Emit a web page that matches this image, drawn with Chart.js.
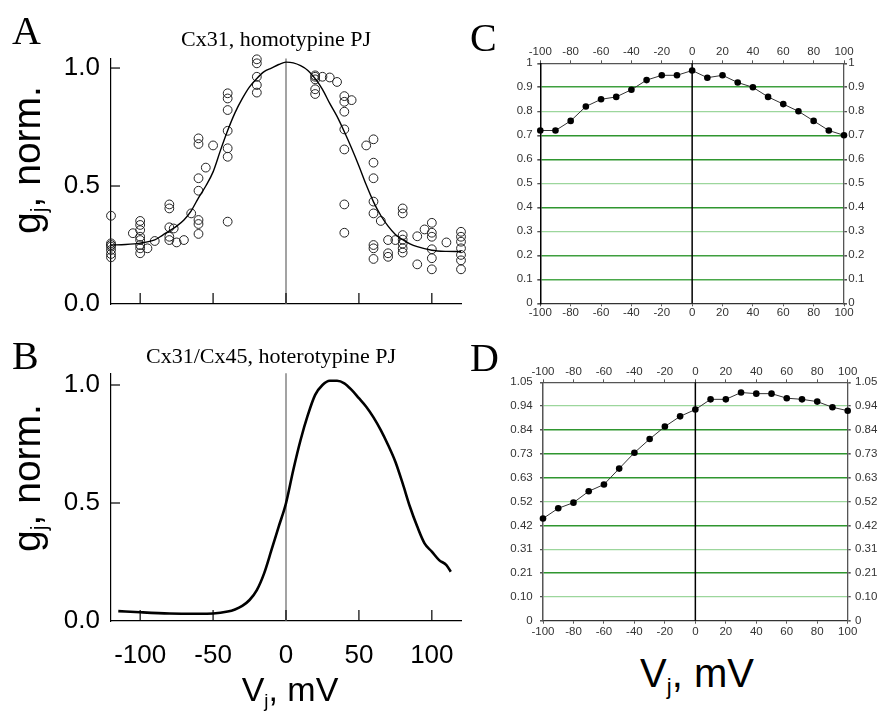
<!DOCTYPE html>
<html>
<head>
<meta charset="utf-8">
<script src="https://cdn.jsdelivr.net/npm/chart.js@4.4.0/dist/chart.umd.min.js"></script>
<style>
body { margin: 0; background: #fff; }
#fig { position: relative; width: 881px; height: 721px; overflow: hidden; background: #fff; }
#fig canvas { position: absolute; }
.t { position: absolute; line-height: 1; white-space: nowrap; color: #000; }
.serif { font-family: "Liberation Serif", "DejaVu Serif", serif; }
.sans { font-family: "Liberation Sans", Arial, sans-serif; }
.ylab { font-size: 39px; transform: translate(-50%, -50%) rotate(-90deg); }
sub { font-size: 55%; vertical-align: -0.3em; line-height: 0; }
</style>
</head>
<body>
<div id="fig">
  <canvas id="chartA" width="475" height="270" style="left:0;top:50px"></canvas>
  <canvas id="chartB" width="475" height="361" style="left:0;top:360px"></canvas>
  <canvas id="chartC" width="411" height="300" style="left:470px;top:30px"></canvas>
  <canvas id="chartD" width="411" height="300" style="left:470px;top:345px"></canvas>

  <div class="t serif" style="left:12px;top:11px;font-size:40px">A</div>
  <div class="t serif" style="left:276px;top:28px;font-size:22px;transform:translateX(-50%)">Cx31, homotypine PJ</div>
  <div class="t sans ylab" style="left:26px;top:160px">g<sub>j</sub>, norm.</div>

  <div class="t serif" style="left:12px;top:336px;font-size:40px">B</div>
  <div class="t serif" style="left:271px;top:345px;font-size:22px;transform:translateX(-50%)">Cx31/Cx45, hoterotypine PJ</div>
  <div class="t sans ylab" style="left:26px;top:478px">g<sub>j</sub>, norm.</div>
  <div class="t sans" style="left:290px;top:672px;font-size:34px;transform:translateX(-50%)">V<sub>j</sub>, mV</div>

  <div class="t serif" style="left:470px;top:18px;font-size:40px">C</div>
  <div class="t serif" style="left:470px;top:338px;font-size:40px">D</div>
  <div class="t sans" style="left:697px;top:653px;font-size:40px;transform:translateX(-50%)">V<sub>j</sub>, mV</div>
</div>

<script>
// ---- panel A: measured points and the fitted curve (Vj in mV, normalised gj)
var aPointV = [-120, -120, -120, -120, -120, -120, -120,
  -100, -100, -100, -100, -100, -100, -100, -100, -105, -95, -90,
  -80, -80, -80, -80, -80, -77, -75, -70,
  -60, -60, -60, -60, -60, -60, -60, -65, -55, -50,
  -40, -40, -40, -40, -40, -40, -40,
  -20, -20, -20, -20, -20,
  20, 20, 20, 20, 20, 25, 30, 35,
  40, 40, 40, 40, 40, 40, 40, 45,
  60, 60, 60, 60, 60, 60, 60, 60, 55, 65, 70, 70, 70,
  80, 80, 80, 80, 80, 80, 80, 75, 90, 90, 95,
  100, 100, 100, 100, 100, 100, 110,
  120, 120, 120, 120, 120, 120, 120];
var aPointG = [0.374, 0.257, 0.25, 0.243, 0.229, 0.212, 0.198,
  0.352, 0.335, 0.313, 0.285, 0.271, 0.25, 0.236, 0.215, 0.30, 0.236, 0.267,
  0.422, 0.405, 0.325, 0.285, 0.271, 0.32, 0.261, 0.271,
  0.702, 0.678, 0.533, 0.48, 0.356, 0.339, 0.297, 0.384, 0.578, 0.672,
  0.893, 0.871, 0.822, 0.734, 0.66, 0.624, 0.349,
  1.037, 1.02, 0.963, 0.928, 0.896,
  0.969, 0.963, 0.952, 0.91, 0.89, 0.963, 0.96, 0.941,
  0.881, 0.857, 0.815, 0.74, 0.655, 0.422, 0.302, 0.864,
  0.698, 0.599, 0.533, 0.434, 0.384, 0.25, 0.236, 0.191, 0.672, 0.352, 0.271, 0.215, 0.20,
  0.405, 0.384, 0.292, 0.273, 0.256, 0.236, 0.218, 0.271, 0.287, 0.168, 0.316,
  0.344, 0.302, 0.285, 0.232, 0.194, 0.147, 0.261,
  0.306, 0.285, 0.264, 0.236, 0.208, 0.185, 0.147];
var aFitV = [-120, -110, -100, -90, -85, -80, -75, -70, -65, -60, -55, -50, -45, -40, -35, -30, -25, -20, -15, -10, -5, 0,
  5, 10, 15, 20, 25, 30, 35, 40, 45, 50, 55, 60, 65, 70, 75, 80, 85, 90, 100, 110, 120];
var aFitG = [0.25, 0.252, 0.258, 0.272, 0.29, 0.31, 0.33, 0.356, 0.395, 0.45, 0.5, 0.56, 0.65, 0.735, 0.81, 0.87, 0.92, 0.956, 0.985, 1.0, 1.015, 1.025,
  1.022, 1.01, 0.99, 0.955, 0.91, 0.85, 0.795, 0.73, 0.66, 0.585, 0.505, 0.433, 0.375, 0.33, 0.295, 0.273, 0.255, 0.243, 0.228, 0.223, 0.222];

// ---- panel B: continuous ramp trace
var bV = [-115, -100, -80, -60, -50, -40, -35, -30, -25, -20, -15, -10, -5, 0, 5, 10, 15, 20, 25, 30, 35, 40, 45,
  50, 55, 60, 65, 70, 75, 80, 85, 90, 95, 100, 105, 110, 113];
var bG = [0.042, 0.037, 0.032, 0.031, 0.032, 0.04, 0.049, 0.064, 0.089, 0.131, 0.202, 0.30, 0.40, 0.499, 0.64, 0.767, 0.873, 0.958, 1.0, 1.018, 1.018, 1.007, 0.979,
  0.944, 0.908, 0.863, 0.809, 0.746, 0.675, 0.583, 0.484, 0.40, 0.329, 0.294, 0.258, 0.237, 0.209];

var abXTicks = [-100, -50, 0, 50, 100];
var abYTicks = [0, 0.5, 1.0];

// ---- panels C and D: model curves
var cdV = [-100, -90, -80, -70, -60, -50, -40, -30, -20, -10, 0, 10, 20, 30, 40, 50, 60, 70, 80, 90, 100];
var cG = [0.72, 0.72, 0.76, 0.82, 0.85, 0.86, 0.89, 0.93, 0.95, 0.95, 0.97, 0.94, 0.95, 0.92, 0.90, 0.86, 0.83, 0.80, 0.76, 0.72, 0.70];
var dG = [0.45, 0.495, 0.52, 0.57, 0.60, 0.67, 0.74, 0.80, 0.855, 0.90, 0.93, 0.975, 0.975, 1.005, 1.0, 1.0, 0.98, 0.975, 0.965, 0.94, 0.925];
var cdXTicks = [-100, -80, -60, -40, -20, 0, 20, 40, 60, 80, 100];
var cYTicks = [0, 0.1, 0.2, 0.3, 0.4, 0.5, 0.6, 0.7, 0.8, 0.9, 1];
var cYLabels = ['0', '0.1', '0.2', '0.3', '0.4', '0.5', '0.6', '0.7', '0.8', '0.9', '1'];
var dYTicks = [0, 0.105, 0.21, 0.315, 0.42, 0.525, 0.63, 0.735, 0.84, 0.945, 1.05];
var dYLabels = ['0', '0.10', '0.21', '0.31', '0.42', '0.52', '0.63', '0.73', '0.84', '0.94', '1.05'];

var DARK = '#2f962f', LIGHT = '#9cd69c';
var cGridColors = ['rgba(0,0,0,0)', '#4aa84a', '#3f9f3f', LIGHT, DARK, LIGHT, DARK, DARK, LIGHT, '#3fa03f', 'rgba(0,0,0,0)'];
var dGridColors = ['rgba(0,0,0,0)', LIGHT, DARK, LIGHT, DARK, LIGHT, DARK, DARK, DARK, LIGHT, 'rgba(0,0,0,0)'];

function xy(xs, ys) {
  return xs.map(function (x, i) { return { x: x, y: ys[i] }; });
}
function fixTicks(values) {
  return function (scale) { scale.ticks = values.map(function (v) { return { value: v }; }); };
}
// fixed axis box sizes, and no extra room for overhanging labels
function fixSize(w, h) {
  return function (scale) {
    if (w != null) scale.width = w;
    if (h != null) scale.height = h;
    scale.paddingTop = scale.paddingBottom = scale.paddingLeft = scale.paddingRight = 0;
  };
}

// ticks pointing into the plot, as in panels A and B
var innerTicks = {
  id: 'innerTicks',
  afterDraw: function (chart, args, opts) {
    if (!opts.x) return;
    var ctx = chart.ctx, a = chart.chartArea, sx = chart.scales.x, sy = chart.scales.y;
    ctx.save();
    ctx.strokeStyle = '#000';
    ctx.lineWidth = 1.2;
    sx.ticks.forEach(function (t) {
      var px = sx.getPixelForValue(t.value);
      ctx.beginPath(); ctx.moveTo(px, a.bottom); ctx.lineTo(px, a.bottom - opts.x); ctx.stroke();
    });
    sy.ticks.forEach(function (t) {
      var py = sy.getPixelForValue(t.value);
      if (t.value === 0) return;
      ctx.beginPath(); ctx.moveTo(a.left, py); ctx.lineTo(a.left + opts.y, py); ctx.stroke();
    });
    ctx.restore();
  }
};

// vertical line at Vj = 0
var zeroLine = {
  id: 'zeroLine',
  beforeDatasetsDraw: function (chart, args, opts) {
    if (!opts.color) return;
    var ctx = chart.ctx, a = chart.chartArea;
    var px = chart.scales.x.getPixelForValue(0);
    ctx.save();
    ctx.strokeStyle = opts.color;
    ctx.lineWidth = opts.width;
    ctx.beginPath(); ctx.moveTo(px, a.top); ctx.lineTo(px, a.bottom); ctx.stroke();
    ctx.restore();
  }
};

Chart.defaults.font.family = '"Liberation Sans", Arial, sans-serif';
Chart.defaults.color = '#000';

function gjChart(id, datasets, yMax, showX, padTop, xAxisH) {
  return new Chart(document.getElementById(id), {
    type: 'scatter',
    data: { datasets: datasets },
    options: {
      responsive: false,
      animation: false,
      events: [],
      layout: { autoPadding: false, padding: { top: padTop, right: 14, left: 0, bottom: 0 } },
      plugins: {
        legend: { display: false },
        tooltip: { enabled: false },
        innerTicks: { x: 11, y: 9 },
        zeroLine: { color: '#a3a3a3', width: 2 }
      },
      scales: {
        x: {
          type: 'linear', min: -120, max: 120,
          afterBuildTicks: fixTicks(abXTicks), afterFit: fixSize(null, xAxisH),
          grid: { display: false, drawTicks: false },
          border: { color: '#000', width: 1.2 },
          ticks: { display: showX, font: { size: 26 }, padding: 19, color: '#000', maxRotation: 0, autoSkip: false,
            callback: function (v) { return String(v); } }
        },
        y: {
          type: 'linear', min: 0, max: yMax,
          afterBuildTicks: fixTicks(abYTicks), afterFit: fixSize(111, null),
          grid: { display: false, drawTicks: false },
          border: { color: '#000', width: 1.2 },
          ticks: { font: { size: 26 }, padding: 11, color: '#000',
            callback: function (v) { return v.toFixed(1); } }
        }
      }
    },
    plugins: [innerTicks, zeroLine]
  });
}

gjChart('chartA', [
  { data: xy(aFitV, aFitG), showLine: true, pointRadius: 0, borderColor: '#000', borderWidth: 1.4,
    cubicInterpolationMode: 'monotone', clip: false },
  { data: xy(aPointV, aPointG), pointRadius: 4.4, pointBorderWidth: 1, borderColor: '#222',
    backgroundColor: 'rgba(0,0,0,0)', pointBackgroundColor: 'rgba(0,0,0,0)', clip: false }
], 1.04, false, 8.6, 16);

gjChart('chartB', [
  { data: xy(bV, bG), showLine: true, pointRadius: 0, borderColor: '#000', borderWidth: 2.6,
    cubicInterpolationMode: 'monotone' }
], 1.05, true, 13.2, 100);

function cdChart(id, values, yMax, yTicks, yLabels, gridColors, box, pads, leftBorder) {
  var tickFont = { size: 11.5 };
  var xBase = {
    type: 'linear', min: -100, max: 100, afterBuildTicks: fixTicks(cdXTicks),
    grid: { drawOnChartArea: false, drawTicks: true, tickLength: 3, tickColor: '#555' },
    ticks: { font: tickFont, color: '#333', maxRotation: 0, autoSkip: false, callback: function (v) { return String(v); } }
  };
  function yBase(onArea) {
    return {
      type: 'linear', min: 0, max: yMax, afterBuildTicks: fixTicks(yTicks),
      grid: {
        drawOnChartArea: onArea, drawTicks: true, tickLength: 3, tickColor: '#555',
        color: function (c) { return gridColors[c.index]; },
        lineWidth: function (c) { return gridColors[c.index] === LIGHT ? 1.3 : 1.6; }
      },
      ticks: { font: tickFont, color: '#333', autoSkip: false, callback: function (v, i) { return yLabels[i]; } }
    };
  }
  var x = Object.assign({}, xBase, { position: 'bottom', afterFit: fixSize(null, box.bottom),
    border: { color: '#333', width: 1.3 }, ticks: Object.assign({}, xBase.ticks, { padding: pads.bottom }) });
  var x2 = Object.assign({}, xBase, { position: 'top', afterFit: fixSize(null, box.top),
    border: { color: '#555', width: 1.3 }, ticks: Object.assign({}, xBase.ticks, { padding: pads.top }) });
  var y = yBase(true);
  y.position = 'left';
  y.afterFit = fixSize(box.left, null);
  y.border = { color: leftBorder, width: 1.5 };
  y.ticks.padding = pads.left;
  var y2 = yBase(false);
  y2.position = 'right';
  y2.afterFit = fixSize(box.right, null);
  y2.border = { color: '#555', width: 1.3 };
  y2.ticks.padding = pads.right;

  return new Chart(document.getElementById(id), {
    type: 'scatter',
    data: { datasets: [{
      data: xy(cdV, values), showLine: true, borderColor: '#333', borderWidth: 1,
      pointRadius: 3.3, pointBackgroundColor: '#000', pointBorderColor: '#000', pointBorderWidth: 0, clip: false
    }] },
    options: {
      responsive: false,
      animation: false,
      events: [],
      layout: { autoPadding: false, padding: 0 },
      plugins: { legend: { display: false }, tooltip: { enabled: false }, zeroLine: { color: '#000', width: 1.5 } },
      scales: { x: x, x2: x2, y: y, y2: y2 }
    },
    plugins: [zeroLine]
  });
}

cdChart('chartC', cG, 1, cYTicks, cYLabels, cGridColors,
  { left: 70.3, right: 37, top: 33.3, bottom: 26.7 },
  { left: 4.6, right: 1.3, top: 1.7, bottom: 0.1 }, '#000');

cdChart('chartD', dG, 1.05, dYTicks, dYLabels, dGridColors,
  { left: 73, right: 33.3, top: 37.3, bottom: 24.3 },
  { left: 7.3, right: 4.3, top: 1, bottom: 1.4 }, '#555');
</script>
</body>
</html>
